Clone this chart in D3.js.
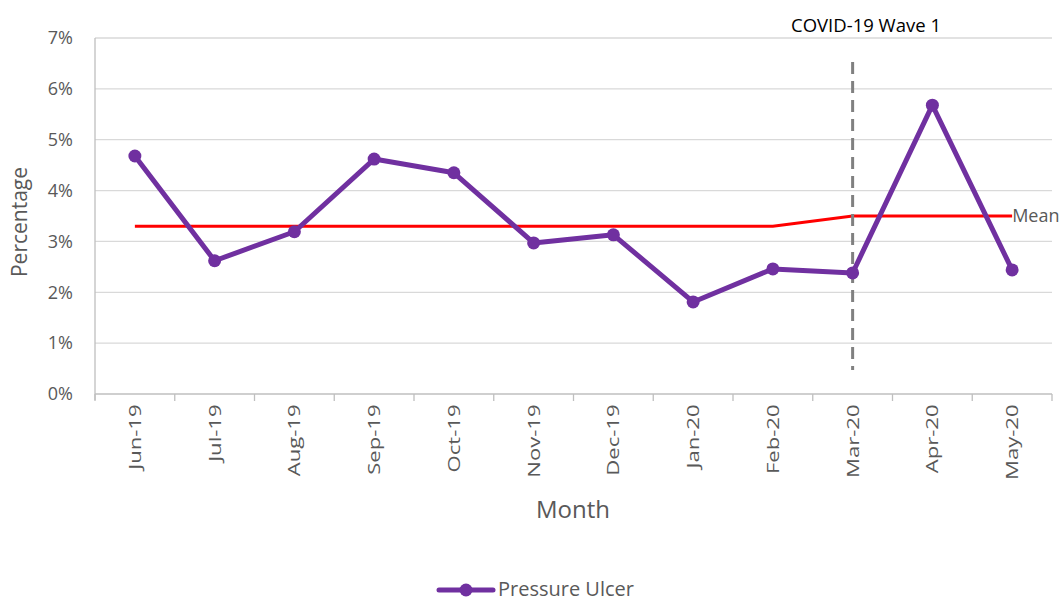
<!DOCTYPE html>
<html><head><meta charset="utf-8">
<script src="https://cdn.jsdelivr.net/npm/d3@7"></script>
<style>body{margin:0;background:#fff}svg{display:block;font-family:"Open Sans",sans-serif}</style>
</head><body>
<svg id="c" width="1060" height="602"></svg>
<script>
const months = ["Jun-19","Jul-19","Aug-19","Sep-19","Oct-19","Nov-19","Dec-19","Jan-20","Feb-20","Mar-20","Apr-20","May-20"];
const pressureUlcer = [4.68,2.62,3.19,4.62,4.35,2.97,3.13,1.81,2.46,2.38,5.68,2.44];
const meanValues = [3.30,3.30,3.30,3.30,3.30,3.30,3.30,3.30,3.30,3.50,3.50,3.50];
const yTicks = [0,1,2,3,4,5,6,7];
const waveMonth = "Mar-20";

const svg = d3.select("#c");
const L=95,R=1052,T=38,B=394;
const x = d3.scaleBand().domain(months).range([L,R]);
const y = d3.scaleLinear().domain([0,7]).range([B,T]);
const cx = d => x(d)+x.bandwidth()/2;
const grey="#595959";
const FF='"Open Sans",sans-serif';

// gridlines
svg.append("g").selectAll("line").data(yTicks.filter(t=>t>0)).join("line")
  .attr("x1",L).attr("x2",R).attr("y1",d=>y(d)).attr("y2",d=>y(d))
  .attr("stroke","#d9d9d9").attr("stroke-width",1.3);

// y axis
const ya = svg.append("g").attr("transform",`translate(${L},0)`)
  .call(d3.axisLeft(y).tickValues(yTicks).tickFormat(d=>d+"%").tickSize(0).tickPadding(22));
ya.select(".domain").attr("stroke","#bfbfbf").attr("stroke-width",1.3).attr("d",`M0,${T}V${B+6}`);
ya.selectAll("text").attr("fill",grey).style("font-size","18px").style("font-family",FF);

// x axis
const xa = svg.append("g").attr("transform",`translate(0,${B})`)
  .call(d3.axisBottom(x).tickSize(0).tickPadding(0));
xa.select(".domain").attr("stroke","#bfbfbf").attr("stroke-width",1.3).attr("d",`M${L},0H${R}`);
xa.selectAll(".tick text").attr("fill",grey).style("font-size","17px").style("font-family",FF)
  .attr("transform","rotate(-90) scale(1.3,1)").attr("text-anchor","end").attr("dy","0.35em").attr("x",-8).attr("y",0);
svg.append("g").selectAll("line").data(months.map((m,i)=>i).concat([months.length])).join("line")
  .attr("x1",i=>L+i*x.step()).attr("x2",i=>L+i*x.step()).attr("y1",B).attr("y2",B+7)
  .attr("stroke","#bfbfbf").attr("stroke-width",1.3);

// axis titles
svg.append("text").attr("x",573).attr("y",518).attr("text-anchor","middle").attr("fill",grey)
  .style("font-size","24px").text("Month");
svg.append("text").attr("transform",`translate(27,${(T+B)/2+6}) rotate(-90)`).attr("text-anchor","middle")
  .attr("fill",grey).style("font-size","21px").text("Percentage");

// mean line
svg.append("path").datum(months).attr("fill","none").attr("stroke","#ff0000").attr("stroke-width",3)
  .attr("d",d3.line().x(d=>cx(d)).y((d,i)=>y(meanValues[i])));
svg.append("text").attr("x",cx(months[months.length-1])).attr("y",y(meanValues[meanValues.length-1])+6)
  .attr("fill",grey).style("font-size","18px").text("Mean");

// wave line
svg.append("line").attr("x1",cx(waveMonth)).attr("x2",cx(waveMonth)).attr("y1",62).attr("y2",370)
  .attr("stroke","#808080").attr("stroke-width",3).attr("stroke-dasharray","12,7");
svg.append("text").attr("x",866).attr("y",32).attr("text-anchor","middle").attr("fill","#000")
  .style("font-size","18.5px").text("COVID-19 Wave 1");

// series
const purple="#7030a0";
svg.append("path").datum(months).attr("fill","none").attr("stroke",purple).attr("stroke-width",5)
  .attr("stroke-linejoin","round")
  .attr("d",d3.line().x(d=>cx(d)).y((d,i)=>y(pressureUlcer[i])));
svg.append("g").selectAll("circle").data(months).join("circle")
  .attr("cx",d=>cx(d)).attr("cy",(d,i)=>y(pressureUlcer[i])).attr("r",6.5).attr("fill",purple);

// legend
svg.append("line").attr("x1",439).attr("x2",493).attr("y1",590).attr("y2",590)
  .attr("stroke",purple).attr("stroke-width",5).attr("stroke-linecap","round");
svg.append("circle").attr("cx",466).attr("cy",590).attr("r",6.5).attr("fill",purple);
svg.append("text").attr("x",498).attr("y",596).attr("fill",grey).style("font-size","20px").text("Pressure Ulcer");
</script>
</body></html>
